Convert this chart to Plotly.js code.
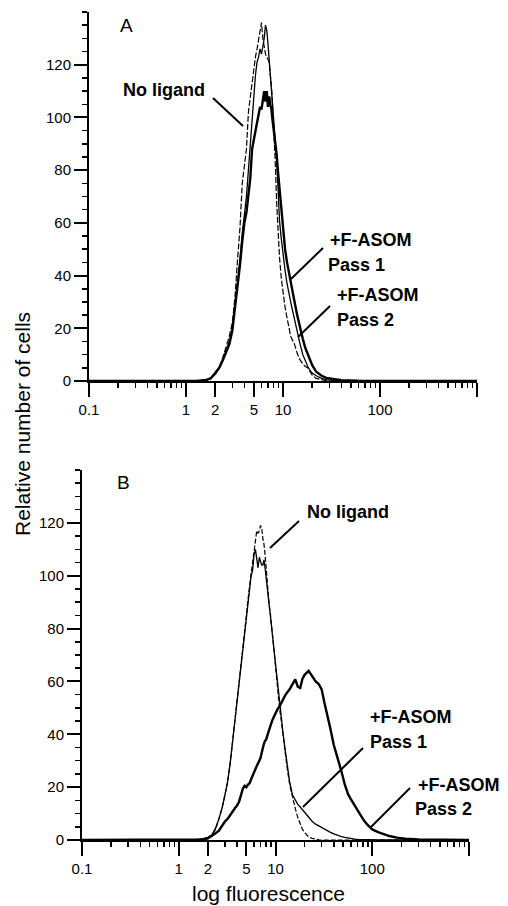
<!DOCTYPE html>
<html>
<head>
<meta charset="utf-8">
<script src="https://cdn.plot.ly/plotly-3.0.1.min.js"></script>
<style>
html,body{margin:0;padding:0;background:#fff;}
#chart{width:508px;height:906px;}
</style>
</head>
<body>
<div id="chart"></div>
<script>
// ---------- Panel A data ----------
const xA = [0.1, 0.3, 0.6, 1.0, 1.3, 1.6, 1.8, 2.0, 2.2, 2.4, 2.6, 2.8, 3.0, 3.2, 3.4, 3.6, 3.8, 4.0, 4.2, 4.4, 4.6, 4.8, 5.0, 5.2, 5.4, 5.6, 5.8, 6.0, 6.2, 6.4, 6.6, 6.8, 7.0, 7.2, 7.4, 7.6, 7.8, 8.0, 8.3, 8.6, 8.9, 9.2, 9.6, 10, 10.5, 11, 11.5, 12, 12.5, 13, 14, 15, 16, 17, 18, 19, 20, 22, 25, 28, 32, 40, 60, 100, 200, 500, 1000];
const noLigandA = [0, 0, 0, 0, 0.2, 0.5, 1.2, 2.5, 5, 9, 13, 17, 22, 32, 46, 58, 75, 82, 88, 102, 108, 114, 120, 123, 126, 129, 132, 136, 130, 127, 124, 123, 122, 121, 116, 112, 105, 98, 84, 68, 54, 47, 39, 33, 28, 24, 20, 17, 15.5, 14.5, 10.5, 8, 6.5, 5.5, 5, 3.5, 2.2, 1, 0.4, 0.1, 0, 0, 0, 0, 0, 0, 0];
const pass1A = [0, 0, 0, 0, 0, 0.3, 1, 3, 5, 8, 11, 14, 19, 28, 34, 44, 53, 60, 64, 70, 77, 88, 92, 95, 98, 101, 104, 103, 107, 110, 106, 110, 104, 108, 105, 103, 99, 96, 92, 86, 79, 73, 65, 57, 50, 45, 41, 38, 35, 31, 25, 20, 16, 12.5, 10, 7.5, 6, 3.5, 2, 1.2, 0.8, 0.3, 0.1, 0, 0, 0, 0];
const pass2A = [0, 0, 0, 0, 0, 0.3, 1, 2.5, 5, 8, 12, 15, 20, 29, 36, 46, 56, 63, 70, 80, 90, 102, 110, 116, 121, 123, 126, 124, 127, 130, 135, 133, 128, 122, 117, 112, 107, 102, 94, 84, 73, 61, 54, 48, 42, 37, 34, 30, 27, 24, 19, 14, 10, 7.5, 5.5, 4, 3, 2, 1, 0.5, 0.2, 0, 0, 0, 0, 0, 0];

// ---------- Panel B data ----------
const xB = [0.1, 0.3, 0.6, 1.0, 1.3, 1.6, 1.8, 2.0, 2.2, 2.4, 2.6, 2.8, 3.0, 3.2, 3.4, 3.6, 3.8, 4.0, 4.2, 4.4, 4.6, 4.8, 5.0, 5.2, 5.4, 5.6, 5.8, 6.0, 6.2, 6.4, 6.6, 6.8, 7.0, 7.2, 7.4, 7.6, 7.8, 8.0, 8.3, 8.6, 8.9, 9.2, 9.6, 10, 10.5, 11, 11.5, 12, 12.5, 13, 14, 15, 16, 17, 18, 19, 20, 22, 24, 26, 28, 30, 32, 34, 37, 40, 44, 48, 52, 56, 60, 66, 72, 80, 88, 100, 115, 130, 150, 180, 220, 300, 500, 1000];
const noLigandB = [0, 0, 0, 0, 0, 0.2, 0.5, 0.8, 1.5, 4, 8, 12, 17, 22, 29, 37, 45, 52, 59, 65, 72, 79, 85, 91, 97, 101, 105, 110, 114, 117, 116, 117, 119, 118, 114, 112, 108, 103, 95, 89, 85, 79, 72, 66, 58, 50, 45, 39, 34, 29, 21, 16, 12, 8.5, 6, 4, 2.8, 1.2, 0.6, 0.2, 0.1, 0, 0, 0, 0, 0, 0, 0, 0, 0, 0, 0, 0, 0, 0, 0, 0, 0, 0, 0, 0, 0, 0, 0];
const pass1B = [0, 0, 0, 0, 0, 0.2, 0.5, 1, 2, 4.5, 8, 12, 17, 22, 29, 37, 45, 52, 59, 65, 72, 79, 85, 90, 96, 100, 102, 108, 110, 106, 103, 107, 105, 104, 104, 106, 103, 100, 94, 89, 84, 79, 72, 66, 58, 51, 46, 40, 35, 30, 22, 17, 15, 13.5, 12.5, 11.5, 10.5, 8.5, 7, 6, 5.3, 4.7, 4.1, 3.6, 2.9, 2.3, 1.7, 1.3, 1, 0.7, 0.5, 0.3, 0.2, 0.1, 0, 0, 0, 0, 0, 0, 0, 0, 0, 0];
const pass2B = [0, 0, 0, 0, 0, 0, 0.2, 0.6, 1.5, 2.5, 3.5, 5.5, 7, 8, 9.5, 11, 12, 13, 14.5, 17, 19.5, 20.5, 20, 21, 21.5, 23, 24.5, 26, 27, 28, 29, 30, 31, 33, 35, 36.5, 37.5, 38, 40, 42, 44, 45, 46.5, 48, 49.5, 50.5, 52, 53.5, 54.5, 55.5, 57, 59, 60.8, 58, 57.5, 61, 62.5, 64, 62, 60, 59, 57, 52, 48, 42, 36, 31, 26, 21, 17.5, 15.5, 13, 10.5, 8, 6, 4, 3, 2.2, 1.5, 0.9, 0.5, 0.2, 0, 0];

// ---------- Axis ticks ----------
const xTickVals = [0.1, 1, 2, 5, 10, 100, 1000];
const xTickText = ['0.1', '1', '2', '5', '10', '100', ''];
const xMinorVals = [0.2, 0.3, 0.4, 0.5, 0.6, 0.7, 0.8, 0.9, 3, 4, 6, 7, 8, 9, 20, 30, 40, 50, 60, 70, 80, 90, 200, 300, 400, 500, 600, 700, 800, 900];
const yTickVals = [0, 20, 40, 60, 80, 100, 120];
const yTickText = ['0', '20', '40', '60', '80', '100', '120'];

const W = 508, H = 906;
const FONT = 'Liberation Sans, Arial, Helvetica, sans-serif';
const px = v => v / W;
const py = v => 1 - v / H;

const dashStyle = '6px,2px';
function tr(x, y, xa, ya, width, dash, name) {
  return {x: x, y: y, xaxis: xa, yaxis: ya, type: 'scatter', mode: 'lines', name: name,
    line: {color: '#000', width: width, dash: dash}, hoverinfo: 'skip', showlegend: false};
}

const data = [
  tr(xA, noLigandA, 'x', 'y', 1.2, dashStyle, 'No ligand'),
  tr(xA, pass2A, 'x', 'y', 1.3, 'solid', '+F-ASOM Pass 2'),
  tr(xA, pass1A, 'x', 'y', 2.4, 'solid', '+F-ASOM Pass 1'),
  tr(xB, noLigandB, 'x2', 'y2', 1.2, '5px,2px', 'No ligand'),
  tr(xB, pass1B, 'x2', 'y2', 1.3, 'solid', '+F-ASOM Pass 1'),
  tr(xB, pass2B, 'x2', 'y2', 2.4, 'solid', '+F-ASOM Pass 2')
];

function xaxis(domain, anchor) {
  return {
    type: 'log', range: [-1, 3], domain: domain, anchor: anchor,
    showline: true, linecolor: '#000', linewidth: 2, mirror: false,
    showgrid: false, zeroline: false,
    tickmode: 'array', tickvals: xTickVals, ticktext: xTickText,
    ticks: 'outside', ticklen: 14, tickwidth: 2, tickcolor: '#000',
    tickfont: {family: FONT, size: 15, color: '#000'},
    minor: {tickmode: 'array', tickvals: xMinorVals, ticks: 'outside', ticklen: 5, tickwidth: 1.5, tickcolor: '#000', showgrid: false}
  };
}
function yaxis(domain, anchor) {
  return {
    range: [0, 140], domain: domain, anchor: anchor,
    showline: true, linecolor: '#000', linewidth: 2,
    showgrid: false, zeroline: false,
    tickmode: 'array', tickvals: yTickVals, ticktext: yTickText,
    ticks: 'outside', ticklen: 13, tickwidth: 2, tickcolor: '#000',
    tickfont: {family: FONT, size: 15, color: '#000'},
    minor: {tickmode: 'linear', tick0: 0, dtick: 5, ticks: 'outside', ticklen: 5, tickwidth: 1.5, tickcolor: '#000', showgrid: false}
  };
}

function label(text, xl, yc, size, bold) {
  return {xref: 'paper', yref: 'paper', x: px(xl), y: py(yc), xanchor: 'left', yanchor: 'middle',
    text: bold ? '<b>' + text + '</b>' : text, showarrow: false,
    font: {family: FONT, size: size, color: '#000'}};
}
function leader(x0, y0, x1, y1) {
  return {type: 'line', xref: 'paper', yref: 'paper', x0: px(x0), y0: py(y0), x1: px(x1), y1: py(y1),
    line: {color: '#000', width: 2}};
}

const layout = {
  width: W, height: H,
  margin: {l: 0, r: 0, t: 0, b: 0},
  paper_bgcolor: '#fff', plot_bgcolor: 'rgba(0,0,0,0)',
  showlegend: false,
  xaxis: xaxis([px(89), px(477)], 'y'),
  yaxis: yaxis([py(381), py(12)], 'x'),
  xaxis2: xaxis([px(82), px(469)], 'y2'),
  yaxis2: yaxis([py(840), py(470)], 'x2'),
  annotations: [
    label('A', 118, 25, 19, false),
    label('B', 115, 483, 19, false),
    label('No ligand', 121, 90, 18, true),
    label('+F-ASOM', 328, 240, 18, true),
    label('Pass 1', 326, 265, 18, true),
    label('+F-ASOM', 335, 295, 18, true),
    label('Pass 2', 335, 320, 18, true),
    label('No ligand', 305, 512, 18, true),
    label('+F-ASOM', 368, 717, 18, true),
    label('Pass 1', 368, 742, 18, true),
    label('+F-ASOM', 416, 785, 18, true),
    label('Pass 2', 413, 809, 18, true),
    {xref: 'paper', yref: 'paper', x: px(23), y: py(424), xanchor: 'center', yanchor: 'middle',
     text: 'Relative number of cells', textangle: -90, showarrow: false,
     font: {family: FONT, size: 21, color: '#000'}},
    {xref: 'paper', yref: 'paper', x: px(268), y: py(893), xanchor: 'center', yanchor: 'middle',
     text: 'log fluorescence', showarrow: false,
     font: {family: FONT, size: 21, color: '#000'}}
  ],
  shapes: [
    leader(213, 98, 243, 126),
    leader(323, 248, 291, 279),
    leader(330, 306, 298, 337),
    leader(299, 521, 270, 548),
    leader(363, 748, 303, 807),
    leader(410, 788, 370, 828)
  ]
};

Plotly.newPlot('chart', data, layout, {staticPlot: true, displayModeBar: false});
</script>
</body>
</html>
